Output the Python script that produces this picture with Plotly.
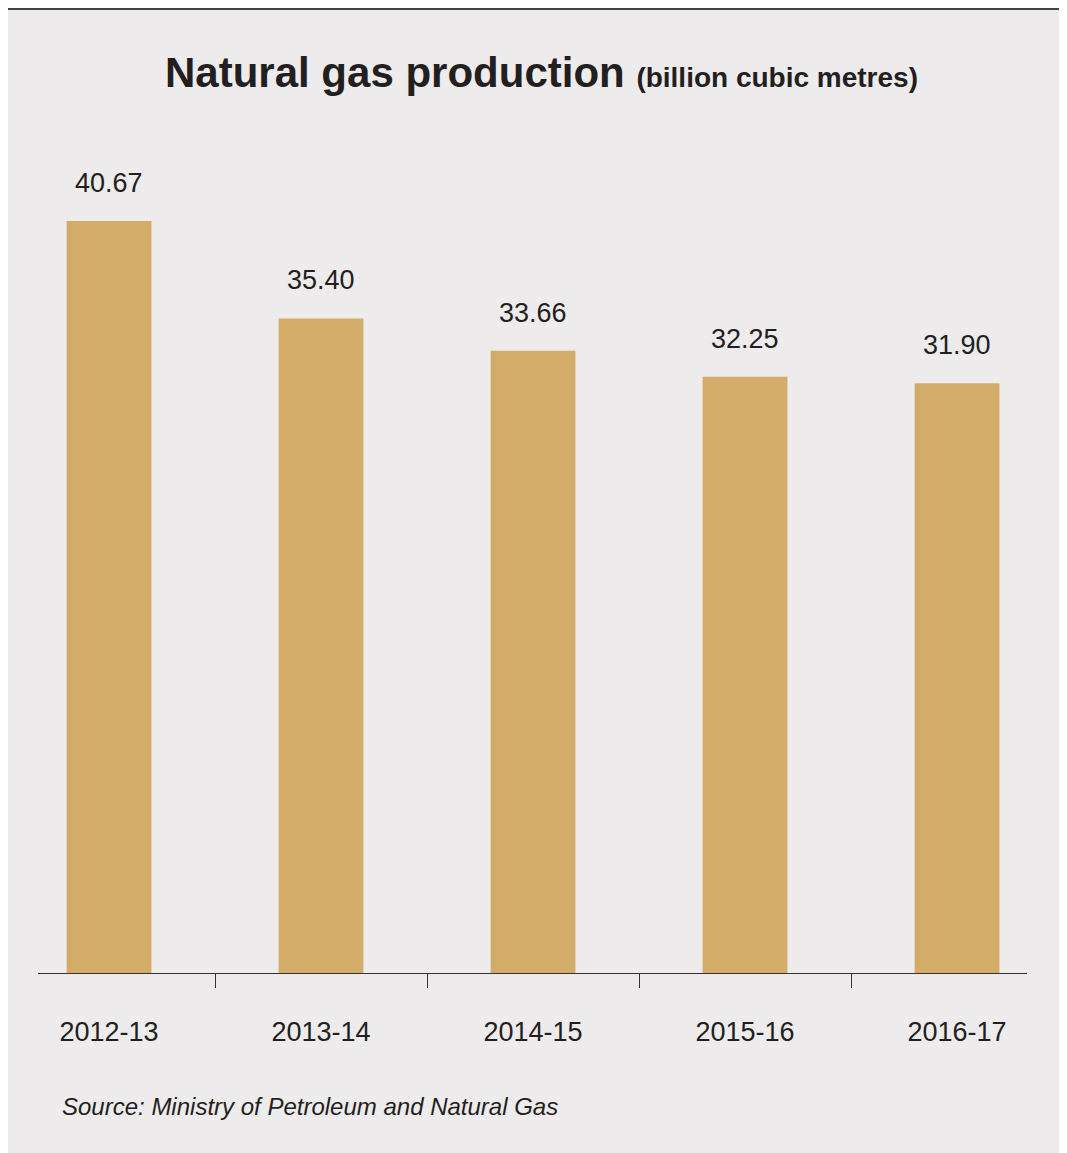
import plotly.graph_objects as go

years = ["2012-13", "2013-14", "2014-15", "2015-16", "2016-17"]
production = [40.67, 35.40, 33.66, 32.25, 31.90]
labels = ["40.67", "35.40", "33.66", "32.25", "31.90"]

fig = go.Figure(go.Bar(
    x=years, y=production, width=0.4,
    marker=dict(color="#D4AC6A", line=dict(width=0)),
))

value_notes = [dict(
    x=yr, y=v, text=t, xref="x", yref="y", showarrow=False,
    yanchor="middle", yshift=38,
    font=dict(family="Liberation Sans", size=27, color="#231F20"),
) for yr, v, t in zip(years, production, labels)]

fig.update_layout(
    width=1067, height=1153,
    paper_bgcolor="#EDEBEB", plot_bgcolor="#EDEBEB",
    margin=dict(l=30, r=48, t=133, b=188),
    showlegend=False,
    title=dict(
        text="<b>Natural gas production</b> <span style='font-size:28px'><b>(billion cubic metres)</b></span>",
        x=0.5, xanchor="center", y=0.944, yanchor="middle",
        font=dict(family="Liberation Sans", size=42, color="#231F20"),
    ),
    xaxis=dict(
        type="category", range=[-0.335, 4.33], tickson="boundaries",
        ticks="outside", ticklen=14, tickcolor="#333", showline=True,
        linecolor="#333", linewidth=1, showgrid=False,
        tickfont=dict(family="Liberation Sans", size=27, color="#231F20"),
    ),
    yaxis=dict(range=[0, 45], visible=False, showgrid=False),
    annotations=value_notes + [dict(
        text="<i>Source: Ministry of Petroleum and Natural Gas</i>",
        xref="paper", yref="paper", x=0.022, y=-0.16,
        xanchor="left", yanchor="middle", showarrow=False,
        font=dict(family="Liberation Sans", size=24, color="#231F20"),
    )],
    shapes=[dict(
        type="rect", xref="paper", yref="paper",
        x0=-0.0384, x1=1.0394, y0=-0.3, y1=1.1587,
        line=dict(color="#444", width=2),
    )],
)
fig.update_xaxes(ticklabelstandoff=35)

fig.write_html("out.html")
